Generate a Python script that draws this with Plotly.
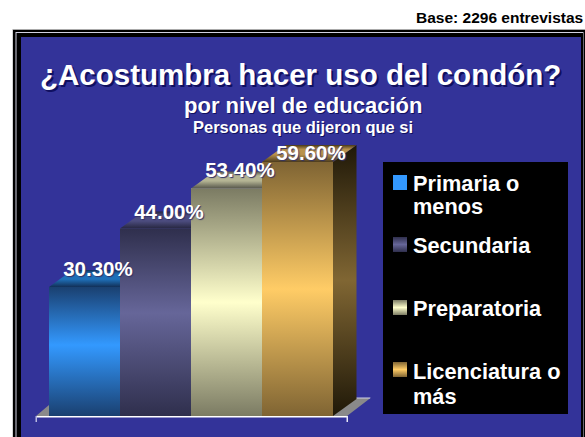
import plotly.graph_objects as go

categories = ["Primaria o menos", "Secundaria", "Preparatoria", "Licenciatura o más"]
legend_lines = ["Primaria o", "menos", "Secundaria", "Preparatoria", "Licenciatura o", "más"]
values = [30.3, 44.0, 53.4, 59.6]
peak_colors = ["#3399ff", "#666699", "#ffffcc", "#ffcc66"]
edge_colors = ["#1a4070", "#2f2f4d", "#7b7b63", "#7f6433"]
top_colors = ["#1f70b8", "#4d4d80", "#b5b594", "#b8924c"]
top_edge_colors = ["#123058", "#26263f", "#55554a", "#4a3a1c"]
side_peak = ["#1a4d80", "#33334d", "#808066", "#806633"]
side_edge = ["#0d2640", "#1a1a26", "#404033", "#1f1808"]
peak_pos = [0.55, 0.55, 0.5, 0.5]

W, H = 585, 437
X0, BAR_W, Y0, PX_PER_UNIT = 49, 71, 416, 4.26
DX, DY = 23.5, 17

def dx(px):
    return (px - X0) / BAR_W - 0.5
def dy(py):
    return (Y0 - py) / PX_PER_UNIT
def px(x):
    return x / W
def py(y):
    return 1 - y / H

fig = go.Figure()

for c, v, col in zip(categories, values, peak_colors):
    fig.add_bar(x=[categories.index(c)], y=[v], width=1, marker=dict(color=col, line_width=0),
                name=c, showlegend=False, hoverinfo="skip")

def poly(xs, ys, colorscale):
    fig.add_scatter(x=xs, y=ys, mode="lines", line=dict(width=0), fill="toself",
                    fillgradient=dict(type="vertical", colorscale=colorscale),
                    showlegend=False, hoverinfo="skip")

ddx, ddy = DX / BAR_W, DY / PX_PER_UNIT
for i, v in enumerate(values):
    l, r = i - 0.5, i + 0.5
    poly([r, r + ddx, r + ddx, r, r], [0, ddy, v + ddy, v, 0],
         [[0, side_edge[i]], [0.5, side_peak[i]], [1, side_edge[i]]])
    poly([l, r, r + ddx, l + ddx, l], [v, v, v + ddy, v + ddy, v],
         [[0, top_edge_colors[i]], [0.45, top_colors[i]], [0.75, top_colors[i]], [1, top_edge_colors[i]]])
    poly([l, r, r, l, l], [0, 0, v, v, 0],
         [[0, edge_colors[i]], [peak_pos[i], peak_colors[i]], [1, edge_colors[i]]])

label_lift_px = [16, 15, 16.5, 7]
fig.add_scatter(x=[i + 0.19 for i in range(4)],
                y=[v + lift / PX_PER_UNIT for v, lift in zip(values, label_lift_px)],
                text=[f"{v:.2f}%" for v in values], mode="text",
                textfont=dict(family="Liberation Sans", size=20.5, color="white",
                              weight="bold", shadow="1px 1px 1px #333366"),
                showlegend=False, hoverinfo="skip")

# legend swatches
swatch_tops = [175, 237, 300, 362]
for i, t in enumerate(swatch_tops):
    b, xl, xr = t + 15, 393, 407
    scale = [[0, peak_colors[0]], [1, peak_colors[0]]] if i == 0 else \
        [[0, edge_colors[i]], [0.5, peak_colors[i]], [1, edge_colors[i]]]
    poly([dx(xl), dx(xr), dx(xr), dx(xl), dx(xl)], [dy(b), dy(b), dy(t), dy(t), dy(b)], scale)

def rect(x0, y0, x1, y1, color):
    return dict(type="rect", xref="paper", yref="paper", x0=px(x0), x1=px(x1), y0=py(y0), y1=py(y1),
                fillcolor=color, line_width=0, layer="below")
def path(pts, color):
    d = "M" + " L".join(f"{px(a)},{py(b)}" for a, b in pts) + " Z"
    return dict(type="path", xref="paper", yref="paper", path=d, fillcolor=color, line_width=0, layer="below")

shapes = [
    rect(12.5, 29, W, H, "#aaaaaa"),
    rect(13, 30, W, H, "black"),
    rect(15.5, 32, 583.5, H, "#d0d0e0"),
    rect(16.5, 33, 583, H, "black"),
    rect(21, 37, 581, H, "#333399"),
    path([(36, 416), (49, 405), (49, 398), (370.5, 398), (347, 416)], "#8a8a8a"),
    path([(356, 397.5), (370.5, 397.5), (370, 398.5), (356, 398.5)], "#d0d0e8"),
    rect(36, 416, 347.5, 417.5, "white"),
    rect(35.5, 416, 37, 422, "#b8b8e0"),
    rect(346.5, 416, 348, 422, "#e8e8f8"),
    rect(383, 162, 568, 414, "black"),
]

def ann(x, y, text, size, anchor="center", color="white", shadow=None):
    font = dict(family="Liberation Sans", size=size, color=color, weight="bold")
    if shadow:
        font["shadow"] = shadow
    return dict(xref="paper", yref="paper", x=px(x), y=py(y), text=text, showarrow=False,
                xanchor=anchor, yanchor="middle", align="left" if anchor == "left" else "center", font=font)

annotations = [
    ann(585, 18, "Base: 2296 entrevistas", 15.5, "right", "black"),
    ann(301, 74.5, "¿Acostumbra hacer uso del condón?", 29.5, shadow="2px 2px 0 #101060"),
    ann(303, 105, "por nivel de educación", 22, shadow="1px 1px 0 #101060"),
    ann(303, 127, "Personas que dijeron que si", 16.5, shadow="1px 1px 0 #101060"),
]
for y, lab in zip([183, 207, 245, 308, 371, 396], legend_lines):
    annotations.append(ann(411, y, lab, 21.75, "left"))

fig.update_layout(
    width=W, height=H, autosize=False, margin=dict(l=0, r=0, t=0, b=0),
    paper_bgcolor="white", plot_bgcolor="rgba(0,0,0,0)", showlegend=False, barmode="overlay",
    xaxis=dict(range=[dx(0), dx(W)], visible=False, fixedrange=True),
    yaxis=dict(range=[dy(H), dy(0)], visible=False, fixedrange=True),
    shapes=shapes, annotations=annotations,
)
fig.write_html("out.html", config=dict(displayModeBar=False),
               post_script="document.body.style.margin='0';document.body.style.overflow='hidden';")
